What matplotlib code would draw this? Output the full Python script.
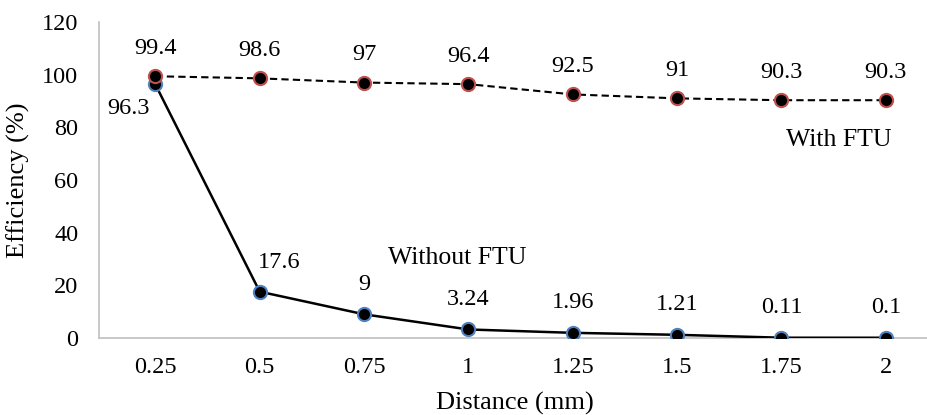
import numpy as np
import matplotlib
matplotlib.use('Agg')
import matplotlib.pyplot as plt

plt.rcParams.update({
    'font.family': ['Liberation Serif', 'DejaVu Serif'], 'font.size': 17.5,
})

distance = ["0.25", "0.5", "0.75", "1", "1.25", "1.5", "1.75", "2"]
with_ftu = [99.4, 98.6, 97, 96.4, 92.5, 91, 90.3, 90.3]
without_ftu = [96.3, 17.6, 9, 3.24, 1.96, 1.21, 0.11, 0.1]

fig = plt.figure(figsize=(9.27, 4.15), dpi=100)
ax = fig.add_axes([99 / 927, 77 / 415, 839 / 927, 316 / 415])

x = np.arange(len(distance))

ax.plot(x, without_ftu, color="black", lw=1.8, marker="o", ms=9.5,
        mfc="black", mec="#4F81BD", mew=1.5, zorder=3)
ax.plot(x, with_ftu, color="black", lw=1.5, ls=(0, (3.5, 2)), marker="o", ms=9.5,
        mfc="black", mec="#C0504D", mew=1.5, zorder=4)

for xi, v in zip(x, with_ftu):
    ax.annotate(f"{v:g}", (xi, v), xytext=(0, 28), textcoords="offset pixels",
                ha="center", va="center")

for i, (xi, v) in enumerate(zip(x, without_ftu)):
    if i == 0:
        off = (-27, -24)
    elif i == 1:
        off = (19, 29)
    else:
        off = (0, 30)
    ax.annotate(f"{v:g}", (xi, v), xytext=off, textcoords="offset pixels",
                ha="center", va="center")

ax.text(2.89, 30.4, "Without FTU", ha="center", va="center", fontsize=18.5)
ax.text(6.55, 75.2, "With FTU", ha="center", va="center", fontsize=18.5)

ax.set_xlim(-0.54, 7.5)
ax.set_ylim(0, 120)
ax.set_yticks(np.arange(0, 121, 20))
ax.set_xticks(x)
ax.set_xticklabels(distance)
ax.tick_params(length=0)
ax.tick_params(axis="y", pad=15)
ax.tick_params(axis="x", pad=14)

for s in ["top", "right"]:
    ax.spines[s].set_visible(False)
for s in ["left", "bottom"]:
    ax.spines[s].set_color("#BFBFBF")
    ax.spines[s].set_linewidth(1.2)

ax.set_xlabel("Distance (mm)", fontsize=19)
ax.set_ylabel("Efficiency (%)", fontsize=19)
ax.xaxis.set_label_coords((515 - 99) / 839, (338 - 392) / 316)
ax.yaxis.set_label_coords((30 - 99) / 839, 0.5)

fig.savefig("out.png", dpi=100)
plt.close(fig)
